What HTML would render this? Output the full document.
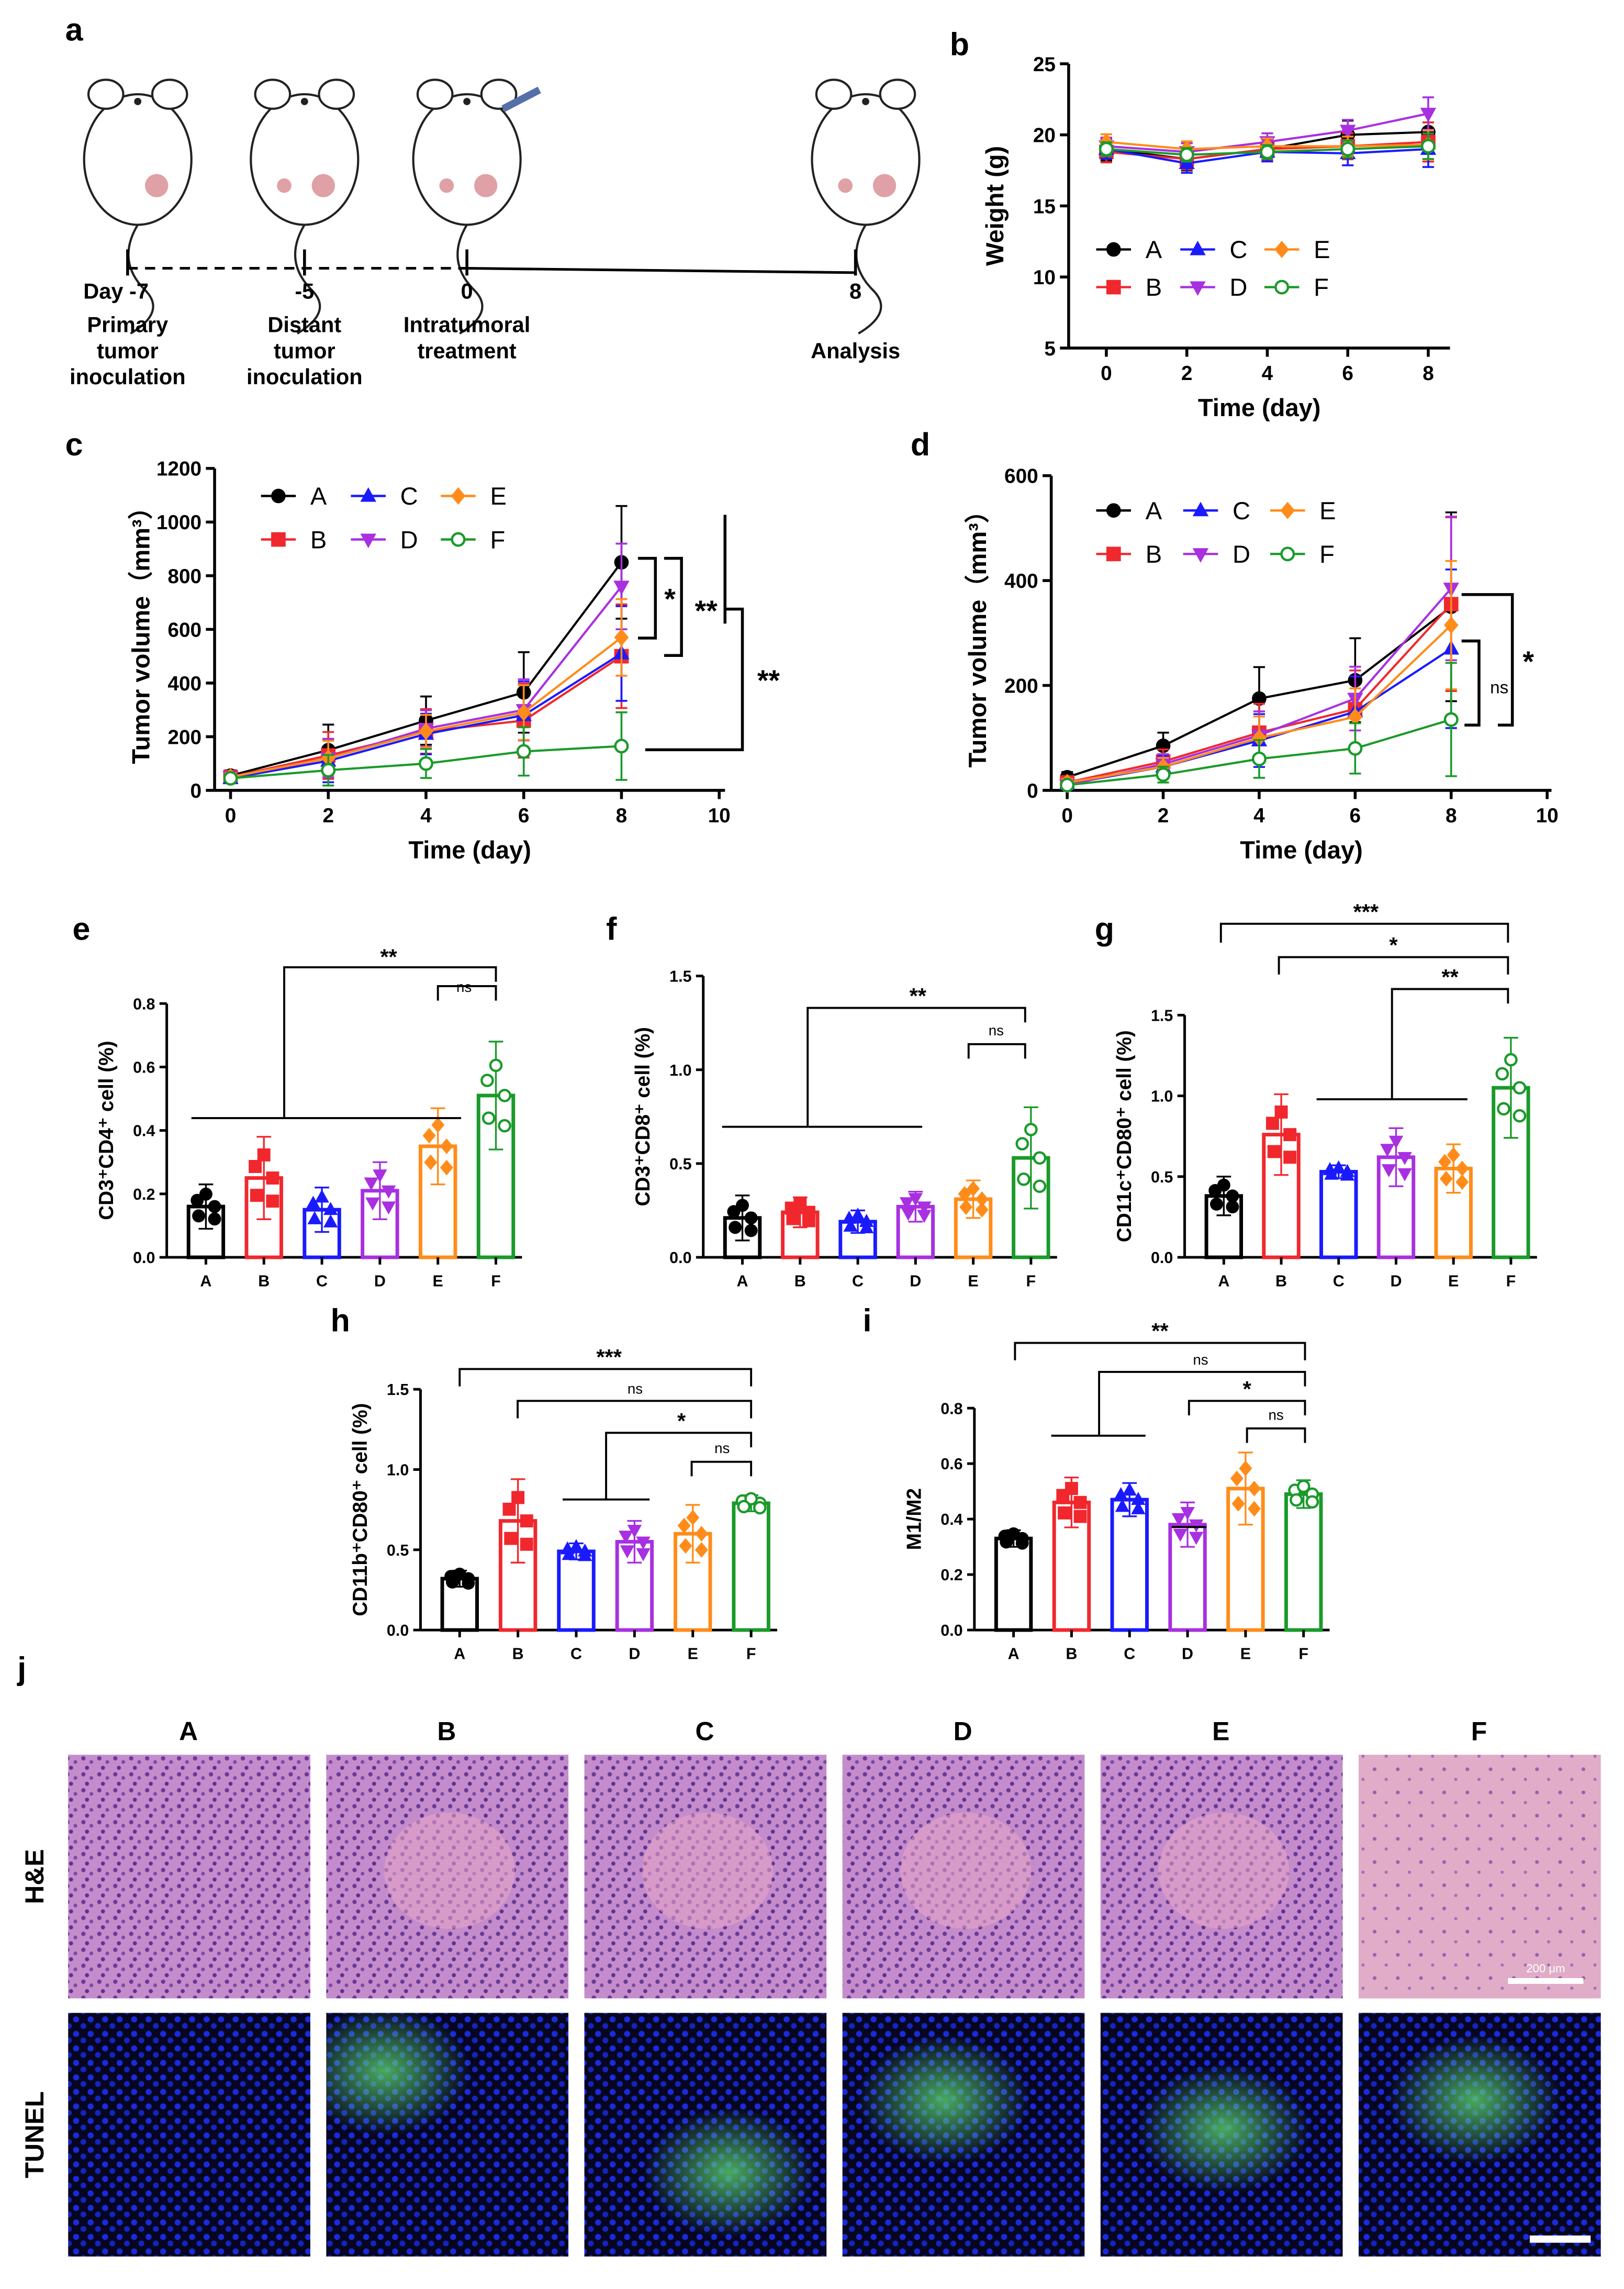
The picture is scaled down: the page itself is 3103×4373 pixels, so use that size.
<!DOCTYPE html>
<html><head><meta charset="utf-8"><style>
html,body{margin:0;padding:0;background:#fff;}
svg{display:block;font-family:"Liberation Sans",Arial,sans-serif;}
</style></head><body>
<svg id="fig" width="3103" height="4373" viewBox="0 0 1120 1578.4" xmlns="http://www.w3.org/2000/svg">
<defs>
<pattern id="he" width="11" height="11" patternUnits="userSpaceOnUse">
<rect width="11" height="11" fill="#c58ccb"/>
<circle cx="2.5" cy="2.5" r="1.5" fill="#6a3a9a"/><circle cx="8" cy="5" r="1.3" fill="#7a4aa8"/><circle cx="5" cy="9" r="1.4" fill="#603090"/>
</pattern>
<pattern id="he2" width="16" height="16" patternUnits="userSpaceOnUse">
<rect width="16" height="16" fill="#e0acc8"/>
<circle cx="4" cy="4" r="1.3" fill="#9a60b0"/><circle cx="12" cy="11" r="1.1" fill="#a070b8"/>
</pattern>
<pattern id="tu" width="10" height="10" patternUnits="userSpaceOnUse">
<rect width="10" height="10" fill="#060620"/>
<circle cx="2.5" cy="2.5" r="2.1" fill="#1a2adc"/><circle cx="7.5" cy="7" r="2" fill="#1424c0"/>
</pattern>
<radialGradient id="gr"><stop offset="0" stop-color="#5ad070" stop-opacity="0.8"/><stop offset="1" stop-color="#5ad070" stop-opacity="0"/></radialGradient>
</defs>
<g id="root"></g>
</svg>
<script>
// ---- panel b data ----
const days = [0,2,4,6,8];
const groups = ['A','B','C','D','E','F'];
const weightA=[19,18.3,19,20,20.2], weightB=[18.8,18.3,19,19.2,19.5], weightC=[19,18,18.8,18.7,19], weightD=[19.2,18.8,19.5,20.3,21.5], weightE=[19.5,19,19.2,19.2,19.3], weightF=[19,18.6,18.8,19,19.2];
const weightErr=[0.8,0.8,0.8,1,1.5];
const bTicks=[5,10,15,20,25];
// ---- panel c data ----
const volCA=[55,150,260,365,850], volCB=[50,130,220,260,500], volCC=[45,110,210,280,510], volCD=[50,120,230,300,760], volCE=[50,120,220,290,570], volCF=[45,75,100,145,165];
const volCErr=[20,95,90,150,210];
const cTicks=[0,200,400,600,800,1000,1200];
// ---- panel d data ----
const volDA=[25,85,175,210,350], volDB=[15,55,110,155,355], volDC=[12,45,95,150,270], volDD=[10,50,105,175,385], volDE=[15,45,100,140,315], volDF=[10,30,60,80,135];
const volDErr=[10,25,60,80,180];
const dTicks=[0,200,400,600];
const xTicks=[0,2,4,6,8,10];
// ---- bar panels ----
const eVals=[.16,.25,.15,.21,.35,.51], eSd=[.07,.13,.07,.09,.12,.17];
const fVals=[.21,.24,.19,.27,.31,.53], fSd=[.12,.08,.06,.08,.1,.27];
const gVals=[.38,.76,.53,.62,.55,1.05], gSd=[.12,.25,.04,.18,.15,.31];
const hVals=[.32,.68,.49,.55,.6,.79], hSd=[.05,.26,.05,.13,.18,.05];
const iVals=[.33,.46,.47,.38,.51,.49], iSd=[.03,.09,.06,.08,.13,.05];

const NS='http://www.w3.org/2000/svg';
const root=document.getElementById('root');
const colors=['#000','#f0282d','#1a1aff','#a830e0','#ff8c1a','#1a9a2a'];
function mk(tag,a,p){const e=document.createElementNS(NS,tag);for(const k in a)e.setAttribute(k,a[k]);(p||root).appendChild(e);return e;}
function txt(x,y,s,size,opt,p){const t=mk('text',Object.assign({x:x,y:y,'font-size':size,'font-weight':'bold','text-anchor':'middle'},opt||{}),p);t.textContent=s;return t;}
function marker(g,i,x,y,r){
  const c=colors[i];let m;
  if(i==0)m=mk('circle',{cx:x,cy:y,r:r,fill:c},g);
  else if(i==1)m=mk('rect',{x:x-r,y:y-r,width:2*r,height:2*r,fill:c},g);
  else if(i==2)m=mk('polygon',{points:`${x},${y-r*1.2} ${x-r*1.1},${y+r*.8} ${x+r*1.1},${y+r*.8}`,fill:c},g);
  else if(i==3)m=mk('polygon',{points:`${x},${y+r*1.2} ${x-r*1.1},${y-r*.8} ${x+r*1.1},${y-r*.8}`,fill:c},g);
  else if(i==4)m=mk('polygon',{points:`${x},${y-r*1.2} ${x+r},${y} ${x},${y+r*1.2} ${x-r},${y}`,fill:c},g);
  else m=mk('circle',{cx:x,cy:y,r:r*.85,fill:'#fff',stroke:c,'stroke-width':1.6},g);
  
  
  return m;
}
function panelLabel(x,y,s){const t=txt(x,y,s,22,{'text-anchor':'start'});}

// ---------- panel a ----------
panelLabel(45,28,'a');
(function(){
  const g=mk('g',{});
  const mice=[[95,1],[210,2],[322,2],[597,2]];
  mice.forEach((m,k)=>{
    const x=m[0],y=110;
    mk('ellipse',{cx:x,cy:y,rx:37,ry:45,fill:'#fff',stroke:'#222','stroke-width':1.5},g);
    mk('ellipse',{cx:x-22,cy:y-45,rx:12,ry:10,fill:'#fff',stroke:'#222','stroke-width':1.5},g);
    mk('ellipse',{cx:x+22,cy:y-45,rx:12,ry:10,fill:'#fff',stroke:'#222','stroke-width':1.5},g);
    mk('circle',{cx:x,cy:y-40,r:2.5,fill:'#222'},g);
    mk('path',{d:`M${x},${y+45} q-15,25 5,45 q15,15 -10,30`,fill:'none',stroke:'#222','stroke-width':1.5},g);
    mk('circle',{cx:x+13,cy:y+18,r:8,fill:'#d88a90',opacity:.8},g);
    if(m[1]==2)mk('circle',{cx:x-14,cy:y+18,r:5,fill:'#d88a90',opacity:.8},g);
  });
  mk('line',{x1:347,y1:75,x2:372,y2:62,stroke:'#5570a8','stroke-width':5},g);
  mk('line',{x1:88,y1:185,x2:322,y2:185,stroke:'#000','stroke-width':1.8,'stroke-dasharray':'7,5'},g);
  mk('line',{x1:322,y1:185,x2:590,y2:188,stroke:'#000','stroke-width':1.8},g);
  [[88,'Day -7',['Primary','tumor','inoculation']],[210,'-5',['Distant','tumor','inoculation']],[322,'0',['Intratumoral','treatment']],[590,'8',['','Analysis']]].forEach(d=>{
    mk('line',{x1:d[0],y1:172,x2:d[0],y2:190,stroke:'#000','stroke-width':2},g);
    txt(d[0]==88?80:d[0],206,d[1],15,{},g);
    d[2].forEach((s,j)=>txt(d[0],229+j*18,s,15,{},g));
  });
})();

// ---------- line charts ----------
function lineChart(o){
  const g=mk('g',{});
  const X=v=>o.x0+(v-o.xmin)*(o.x1-o.x0)/(o.xmax-o.xmin);
  const Y=v=>o.y0-(v-o.ymin)*(o.y0-o.y1)/(o.ymax-o.ymin);
  mk('line',{x1:o.ax,y1:o.y0,x2:o.ax,y2:o.y1,stroke:'#000','stroke-width':2},g);
  mk('line',{x1:o.ax,y1:o.y0,x2:o.xend,y2:o.y0,stroke:'#000','stroke-width':2},g);
  o.yt.forEach(v=>{mk('line',{x1:o.ax-6,y1:Y(v),x2:o.ax,y2:Y(v),stroke:'#000','stroke-width':2},g);txt(o.ax-9,Y(v)+5,v,14,{'text-anchor':'end'},g);});
  o.xt.forEach(v=>{mk('line',{x1:X(v),y1:o.y0,x2:X(v),y2:o.y0+6,stroke:'#000','stroke-width':2},g);txt(X(v),o.y0+22,v,14,{},g);});
  txt((o.ax+o.xend)/2,o.y0+47,'Time (day)',17,{},g);
  txt(0,0,o.ylab,17,{transform:`translate(${o.ax-45},${(o.y0+o.y1)/2}) rotate(-90)`},g);
  o.series.forEach((s,i)=>{
    const sg=mk('g',{},g);
    s.forEach((v,k)=>{const e=o.err[k]*(1-i*0.08);mk('line',{x1:X(days[k]),y1:Y(v-e),x2:X(days[k]),y2:Y(v+e),stroke:colors[i],'stroke-width':1.3},sg);
      mk('line',{x1:X(days[k])-4,y1:Y(v+e),x2:X(days[k])+4,y2:Y(v+e),stroke:colors[i],'stroke-width':1.3},sg);
      mk('line',{x1:X(days[k])-4,y1:Y(v-e),x2:X(days[k])+4,y2:Y(v-e),stroke:colors[i],'stroke-width':1.3},sg);});
    mk('polyline',{points:s.map((v,k)=>X(days[k])+','+Y(v)).join(' '),fill:'none',stroke:colors[i],'stroke-width':1.5},sg);
    s.forEach((v,k)=>marker(sg,i,X(days[k]),Y(v),5));
  });
  const lg=mk('g',{},g);
  groups.forEach((n,i)=>{const c=i>>1,r=i&1;const lx=o.lx+c*o.ldx,ly=o.ly+r*o.ldy;
    mk('line',{x1:lx-12,y1:ly,x2:lx+12,y2:ly,stroke:colors[i],'stroke-width':1.6},lg);marker(lg,i,lx,ly,5);
    txt(lx+22,ly+6,n,17,{'text-anchor':'start','font-weight':'normal'},lg);});
  return {g,X,Y};
}
panelLabel(655,38,'b');
lineChart({name:'weight-chart',ax:737,xend:1000,x0:763,x1:985,xmin:0,xmax:8,y0:240,y1:44,ymin:5,ymax:25,yt:bTicks,xt:[0,2,4,6,8],
  ylab:'Weight (g)',series:[weightA,weightB,weightC,weightD,weightE,weightF],err:weightErr,lx:768,ly:172,ldx:58,ldy:26});
panelLabel(45,314,'c');
lineChart({name:'tumor-volume-primary-chart',ax:148,xend:500,x0:159,x1:496,xmin:0,xmax:10,y0:545,y1:323,ymin:0,ymax:1200,yt:cTicks,xt:xTicks,
  ylab:'Tumor volume（mm³）',series:[volCA,volCB,volCC,volCD,volCE,volCF],err:volCErr,lx:192,ly:342,ldx:62,ldy:30});
panelLabel(628,314,'d');
lineChart({name:'tumor-volume-distant-chart',ax:725,xend:1070,x0:736,x1:1067,xmin:0,xmax:10,y0:545,y1:328,ymin:0,ymax:600,yt:dTicks,xt:xTicks,
  ylab:'Tumor volume（mm³）',series:[volDA,volDB,volDC,volDD,volDE,volDF],err:volDErr,lx:768,ly:352,ldx:60,ldy:30});
(function(){const g=mk('g',{});
 const s={stroke:'#000','stroke-width':2,fill:'none'};
 mk('polyline',Object.assign({points:`440,385 452,385 452,440 440,440`},s),g);txt(462,420,'*',20,{},g);
 mk('polyline',Object.assign({points:`458,385 470,385 470,452 458,452`},s),g);txt(487,428,'**',20,{},g);
 mk('line',Object.assign({x1:500,y1:355,x2:500,y2:430},s),g);
 mk('polyline',Object.assign({points:`500,420 512,420 512,517 445,517`},s),g);txt(530,476,'**',20,{},g);
 mk('polyline',Object.assign({points:`1008,410 1043,410 1043,500 1033,500`},s),g);txt(1054,463,'*',20,{},g);
 mk('polyline',Object.assign({points:`1008,442 1020,442 1020,500 1010,500`},s),g);txt(1034,478,'ns',12,{'font-weight':'normal'},g);
})();

// ---------- bar charts ----------
const cats=groups;
function barChart(o){
  const g=mk('g',{});
  const Y=v=>o.y0-v*(o.y0-o.y1)/o.ymax;
  const X=i=>o.ax+27+i*o.step;
  mk('line',{x1:o.ax,y1:o.y0,x2:o.ax,y2:o.y1,stroke:'#000','stroke-width':1.8},g);
  mk('line',{x1:o.ax,y1:o.y0,x2:X(5)+18,y2:o.y0,stroke:'#000','stroke-width':1.8},g);
  o.yt.forEach(v=>{mk('line',{x1:o.ax-5,y1:Y(v),x2:o.ax,y2:Y(v),stroke:'#000','stroke-width':1.8},g);txt(o.ax-8,Y(v)+4,v.toFixed(1),11,{'text-anchor':'end'},g);});
  txt(0,0,o.ylab,14,{transform:`translate(${o.ax-37},${(o.y0+o.y1)/2}) rotate(-90)`},g);
  o.vals.forEach((v,i)=>{const c=colors[i];
    const b=mk('rect',{x:X(i)-12,y:Y(v),width:24,height:Y(0)-Y(v),fill:'#fff',stroke:c,'stroke-width':2.5},g);
    
    const s=o.sd[i];
    mk('line',{x1:X(i),y1:Y(v-s),x2:X(i),y2:Y(v+s),stroke:c,'stroke-width':1.2},g);
    mk('line',{x1:X(i)-5,y1:Y(v+s),x2:X(i)+5,y2:Y(v+s),stroke:c,'stroke-width':1.2},g);
    mk('line',{x1:X(i)-5,y1:Y(v-s),x2:X(i)+5,y2:Y(v-s),stroke:c,'stroke-width':1.2},g);
    [[-6,1.1],[6,0.9],[0,1.3],[-5,0.6],[6,0.5]].forEach(p=>{const pv=v+(p[1]-0.9)*s*1.4;marker(g,i,X(i)+p[0],Y(Math.max(0.02,pv)),4.5);});
    mk('line',{x1:X(i),y1:o.y0,x2:X(i),y2:o.y0+5,stroke:'#000','stroke-width':1.8},g);
    txt(X(i),o.y0+20,cats[i],11,{},g);
  });
  const sg=mk('g',{},g);
  o.sig.forEach(s=>{mk('polyline',{points:s.p,fill:'none',stroke:'#000','stroke-width':1.4},sg);txt(s.tx,s.ty,s.t,s.t=='ns'?10:15,{'font-weight':s.t=='ns'?'normal':'bold'},sg);});
}
panelLabel(50,648,'e');
barChart({name:'cd4-bar-chart',ax:115,y0:867,y1:692,ymax:0.8,step:40,yt:[0,0.2,0.4,0.6,0.8],vals:eVals,sd:eSd,ylab:'CD3⁺CD4⁺ cell (%)',
 sig:[{p:'132,771 318,771',t:'',tx:0,ty:0},{p:'196,771 196,667 342,667 342,677',t:'**',tx:268,ty:665},{p:'302,690 302,680 342,680 342,690',t:'ns',tx:320,ty:684}]});
panelLabel(418,648,'f');
barChart({name:'cd8-bar-chart',ax:485,y0:867,y1:673,ymax:1.5,step:39.8,yt:[0,0.5,1,1.5],vals:fVals,sd:fSd,ylab:'CD3⁺CD8⁺ cell (%)',
 sig:[{p:'498,777 636,777',t:'',tx:0,ty:0},{p:'557,777 557,695 707,695 707,705',t:'**',tx:633,ty:692},{p:'668,730 668,720 707,720 707,730',t:'ns',tx:687,ty:714}]});
panelLabel(755,648,'g');
barChart({name:'cd11c-bar-chart',ax:817,y0:867,y1:700,ymax:1.5,step:39.6,yt:[0,0.5,1,1.5],vals:gVals,sd:gSd,ylab:'CD11c⁺CD80⁺ cell (%)',
 sig:[{p:'842,650 842,637 1040,637 1040,650',t:'***',tx:942,ty:634},{p:'882,672 882,660 1040,660 1040,672',t:'*',tx:961,ty:657},{p:'908,758 1012,758',t:'',tx:0,ty:0},{p:'960,758 960,682 1040,682 1040,692',t:'**',tx:1000,ty:679}]});
panelLabel(228,918,'h');
barChart({name:'cd11b-bar-chart',ax:290,y0:1124,y1:958,ymax:1.5,step:40.2,yt:[0,0.5,1,1.5],vals:hVals,sd:hSd,ylab:'CD11b⁺CD80⁺ cell (%)',
 sig:[{p:'317,956 317,944 518,944 518,956',t:'***',tx:420,ty:941},{p:'357,978 357,966 518,966 518,978',t:'ns',tx:438,ty:961},{p:'388,1034 448,1034',t:'',tx:0,ty:0},{p:'418,1034 418,988 518,988 518,998',t:'*',tx:470,ty:985},{p:'477,1018 477,1008 518,1008 518,1018',t:'ns',tx:498,ty:1002}]});
panelLabel(595,918,'i');
barChart({name:'m1m2-bar-chart',ax:672,y0:1124,y1:971,ymax:0.8,step:40,yt:[0,0.2,0.4,0.6,0.8],vals:iVals,sd:iSd,ylab:'M1/M2',
 sig:[{p:'700,938 700,926 900,926 900,938',t:'**',tx:800,ty:923},{p:'725,990 790,990',t:'',tx:0,ty:0},{p:'758,990 758,946 900,946 900,956',t:'ns',tx:828,ty:941},{p:'820,976 820,966 900,966 900,976',t:'*',tx:860,ty:963},{p:'860,995 860,985 900,985 900,995',t:'ns',tx:880,ty:979},{p:'808,1053 832,1053',t:'',tx:0,ty:0}]});

// ---------- panel j ----------
panelLabel(12,1158,'j');
(function(){
  const g=mk('g',{});
  const defs=document.querySelector('defs');
  const xs=[47,225,403,581,759,937];
  txt(0,0,'H&E',18,{transform:'translate(30,1294) rotate(-90)'},g);
  txt(0,0,'TUNEL',18,{transform:'translate(30,1472) rotate(-90)'},g);
  groups.forEach((n,i)=>{
    txt(xs[i]+83,1200,n,18,{},g);
    const h=mk('rect',{x:xs[i],y:1210,width:167,height:168,fill:i==5?'url(#he2)':'url(#he)'},g);
    
    if(i>0&&i<5)mk('ellipse',{cx:xs[i]+85,cy:1290,rx:45,ry:40,fill:'#e8a8c8',opacity:.55},g);
    const cp=mk('clipPath',{id:'cp'+i},defs);mk('rect',{x:xs[i],y:1388,width:167,height:168},cp);
    const t=mk('rect',{x:xs[i],y:1388,width:167,height:168,fill:'url(#tu)'},g);
    
    if(i>0)mk('ellipse',{cx:xs[i]+[0,40,100,70,85,80][i],cy:1388+[0,40,110,60,80,60][i],rx:60,ry:45,fill:'url(#gr)','clip-path':'url(#cp'+i+')'},g);
  });
  mk('line',{x1:1040,y1:1366,x2:1092,y2:1366,stroke:'#fff','stroke-width':4},g);
  txt(1066,1360,'200 μm',8,{fill:'#fff','font-weight':'normal'},g);
  mk('line',{x1:1055,y1:1544,x2:1097,y2:1544,stroke:'#fff','stroke-width':5},g);
})();
</script>
</body></html>
